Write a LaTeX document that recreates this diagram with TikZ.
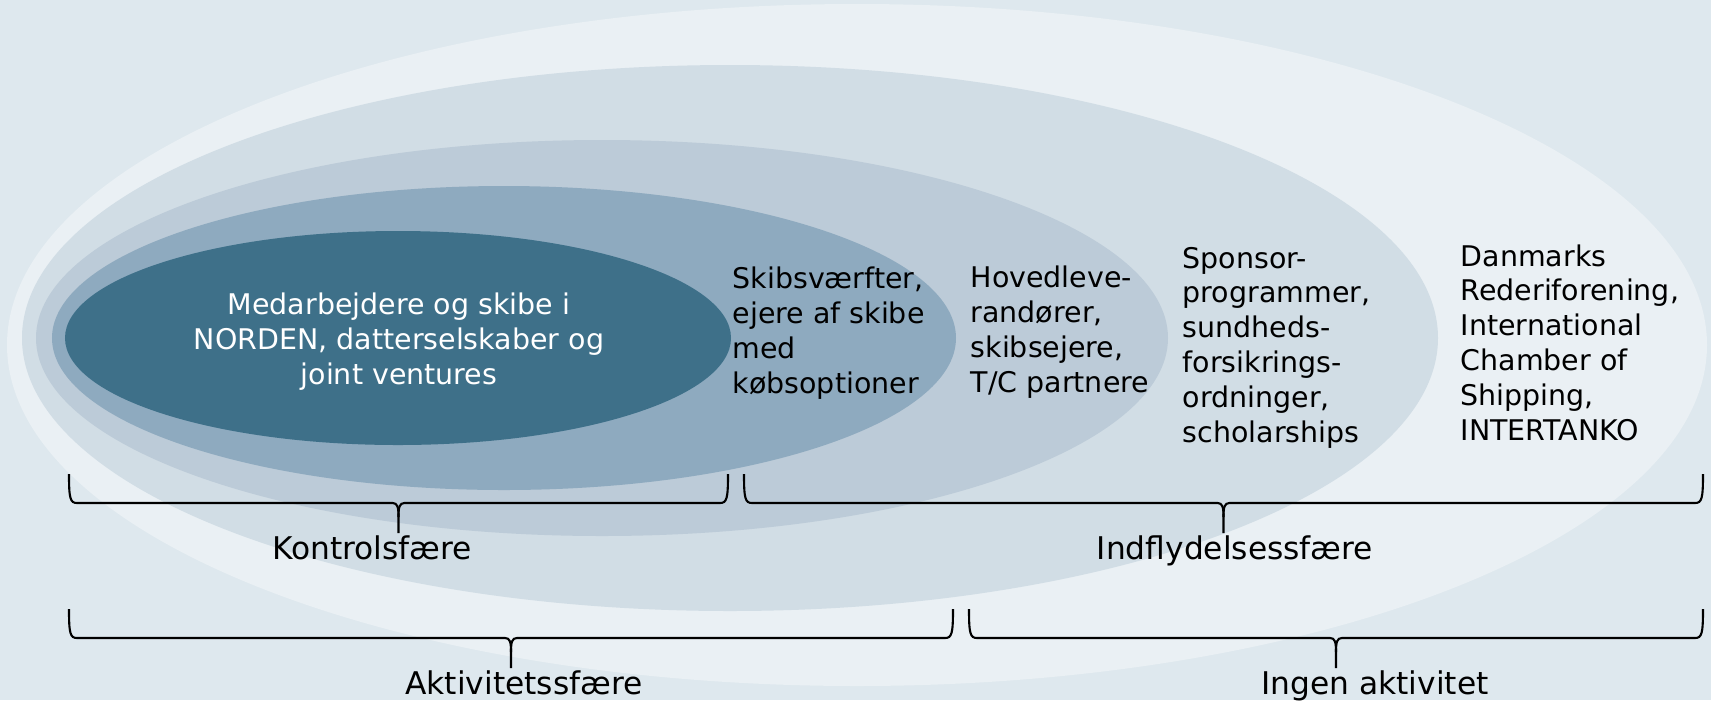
\documentclass[tikz,border=0pt]{standalone}
\usepackage{fontspec}
\setmainfont{DejaVu Sans}
\usetikzlibrary{positioning}
\definecolor{bgcol}{RGB}{222,232,238}
\definecolor{sphA}{RGB}{234,240,244}
\definecolor{sphB}{RGB}{209,221,229}
\definecolor{sphC}{RGB}{188,203,216}
\definecolor{sphD}{RGB}{142,170,191}
\definecolor{sphE}{RGB}{62,112,137}
\tikzset{
	pics/sfbrace/.style={code={
		\draw [pic actions] (0,0) .. controls (0,-0.24) and (0.01,-0.29) .. (0.08,-0.29)
			-- ({#1/2-0.06},-0.29) .. controls ({#1/2-0.01},-0.29) and ({#1/2},-0.33) .. ({#1/2},-0.43)
			-- ({#1/2},-0.59);
		\draw [pic actions] (#1,0) .. controls (#1,-0.24) and ({#1-0.01},-0.29) .. ({#1-0.08},-0.29)
			-- ({#1/2+0.06},-0.29) .. controls ({#1/2+0.01},-0.29) and ({#1/2},-0.33) .. ({#1/2},-0.43);
	}}
}

\begin{document}
\begin{tikzpicture}[
	member/.style={align=left, anchor=base west, inner sep=0pt, font=\fontsize{8.1}{9.9}\selectfont},
	sphlabel/.style={anchor=base, inner sep=0pt, font=\fontsize{8.9}{10.7}\selectfont},
	bracket/.style={line width=0.6pt, black}
]
	\useasboundingbox (0,0) rectangle (17.11,7);
	\fill[bgcol] (0,0) rectangle (17.11,7);

	% spheres, outer to inner
	\fill[sphA] (8.57,3.55) ellipse [x radius=8.50, y radius=3.41];
	\fill[sphB] (7.30,3.62) ellipse [x radius=7.08, y radius=2.73];
	\fill[sphC] (6.02,3.62) ellipse [x radius=5.66, y radius=1.98];
	\fill[sphD] (5.04,3.62) ellipse [x radius=4.52, y radius=1.52];
	\fill[sphE] (3.98,3.62) ellipse [x radius=3.33, y radius=1.07];

	% texts (base = last line)
	\node[member, align=center, anchor=base, text=white] (own) at (3.99,3.16)
		{Medarbejdere og skibe i\\NORDEN, datterselskaber og\\joint ventures};
	\node[member] (yards) at (7.32,3.07) {Skibsværfter,\\ejere af skibe\\med\\købsoptioner};
	\node[member] (suppl) at (9.70,3.08) {Hovedleve-\\randører,\\skibsejere,\\T/C partnere};
	\node[member] (spons) at (11.82,2.58) {Sponsor-\\programmer,\\sundheds-\\forsikrings-\\ordninger,\\scholarships};
	\node[member] (assoc) at (14.60,2.60) {Danmarks\\Rederiforening,\\International\\Chamber of\\Shipping,\\INTERTANKO};

	% braces
	\pic[bracket] (kb) at (0.69,2.26) {sfbrace=6.59};
	\pic[bracket] (ib) at (7.44,2.26) {sfbrace=9.59};
	\pic[bracket] (ab) at (0.69,0.91) {sfbrace=8.84};
	\pic[bracket] (nb) at (9.69,0.91) {sfbrace=7.34};

	\node[sphlabel] (kontrol) at (3.72,1.41) {Kontrolsfære};
	\node[sphlabel] (indfl) at (12.35,1.41) {Indflydelsessfære};
	\node[sphlabel] (aktiv) at (5.24,0.06) {Aktivitetssfære};
	\node[sphlabel] (ingen) at (13.75,0.06) {Ingen aktivitet};
\end{tikzpicture}
\end{document}
